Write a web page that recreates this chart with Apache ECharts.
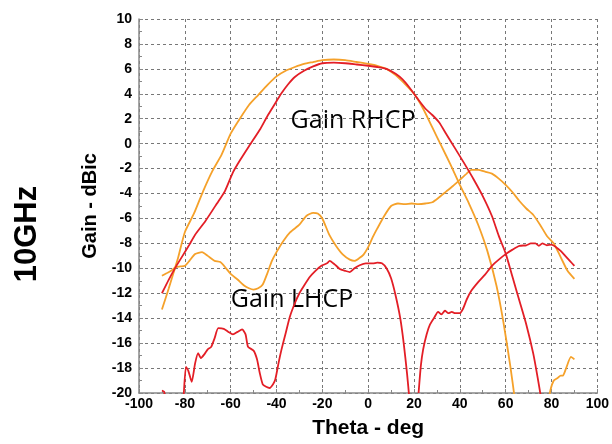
<!DOCTYPE html>
<html lang="en">
<head>
    <meta charset="UTF-8">
    <title>Gain 10GHz</title>
    <script src="https://cdn.jsdelivr.net/npm/echarts@6/dist/echarts.min.js"></script>
    <style>
        html, body {
            width: 100%;
            height: 100%;
            margin: 0;
            padding: 0;
            background-color: #fff;
            overflow: hidden;
        }
        #chart {
            width: 612px;
            height: 444px;
        }
    </style>
</head>
<body>
<div id="chart"></div>
<script>
    // Axis ranges
    var thetaMin = -100, thetaMax = 100, thetaStep = 20;
    var gainMin = -20, gainMax = 10, gainStep = 2;

    // Gain RHCP, orange trace (theta, gain); dips below -20 between ~64 and ~79
    var rhcpOrange = [
        [-90, -13.3], [-87, -11.6], [-85, -10.4], [-83, -9.2], [-80, -7.1], [-76, -5.6],
        [-72, -3.8], [-68, -2.2], [-64, -0.9], [-60, 0.8], [-56, 2.0], [-52, 3.1],
        [-48, 3.9], [-44, 4.7], [-40, 5.4], [-36, 5.85], [-32, 6.15], [-28, 6.4],
        [-24, 6.55], [-20, 6.7], [-15, 6.75], [-10, 6.7], [-5, 6.55], [0, 6.4],
        [4, 6.25], [8, 6.0], [12, 5.5], [16, 4.8], [20, 4.0], [24, 2.8], [28, 1.3],
        [32, -0.2], [36, -1.7], [40, -3.3], [44, -4.8], [48, -6.5], [52, -8.6],
        [56, -11.4], [59, -14.3], [62, -17.8], [64, -20.5], [65, -22], [70, null],
        [78.5, -21], [79.5, -19.8], [81, -19.0], [82.7, -18.8], [84, -18.6], [85, -18.6],
        [86.4, -18.0], [88.5, -17.1], [90, -17.3]
    ];

    // Gain RHCP, red trace
    var rhcpRed = [
        [-90, -12.0], [-87, -10.9], [-84, -9.9], [-81, -9.0], [-78, -8.1], [-75.5, -7.3],
        [-71, -6.2], [-66, -4.8], [-62.5, -3.8], [-59, -2.3], [-56, -1.35], [-52, -0.2],
        [-47, 1.2], [-44, 2.2], [-41, 3.1], [-38, 4.0], [-35, 4.75], [-32, 5.35],
        [-28, 5.85], [-24, 6.2], [-20, 6.45], [-15, 6.5], [-10, 6.45], [-5, 6.35],
        [0, 6.25], [4, 6.15], [8, 6.0], [12, 5.6], [15, 5.15], [18, 4.5], [22, 3.5],
        [25, 2.8], [28, 2.3], [31, 1.7], [34, 0.8], [38, -0.4], [42, -1.6], [46, -2.85],
        [50, -4.2], [54, -5.8], [57, -7.4], [60, -8.8], [63, -10.7], [66, -12.6],
        [69, -14.5], [72, -16.8], [74, -18.8], [75.5, -20.5], [77, -23]
    ];

    // Gain LHCP, orange trace
    var lhcpOrange = [
        [-90, -10.6], [-88, -10.4], [-86, -10.2], [-84, -9.9], [-82, -9.85], [-80, -9.8],
        [-78, -9.4], [-75.5, -8.85], [-72.5, -8.7], [-70, -9.0], [-67, -9.4], [-64.5, -9.5],
        [-62, -10.0], [-60, -10.45], [-57, -10.9], [-54, -11.4], [-52, -11.6], [-50, -11.7],
        [-48, -11.6], [-46, -11.3], [-44, -10.4], [-42, -9.4], [-40, -8.7], [-37, -7.8],
        [-34, -7.1], [-30, -6.5], [-27, -5.8], [-24, -5.55], [-22, -5.6], [-20, -6.0],
        [-17, -7.3], [-14, -8.2], [-11, -8.9], [-8, -9.3], [-6, -9.4], [-4, -9.2],
        [-2, -8.9], [0, -8.3], [2, -7.5], [4, -6.8], [7, -5.8], [10, -5.0], [13, -4.8],
        [16, -4.85], [19, -4.8], [22, -4.85], [25, -4.8], [28, -4.7], [31, -4.3],
        [34, -3.85], [37, -3.4], [40, -2.9], [43, -2.4], [45, -2.1], [48, -2.1],
        [51, -2.25], [54, -2.4], [57, -2.8], [60, -3.3], [63, -3.9], [66, -4.6],
        [69, -5.2], [72, -5.7], [75, -6.5], [78, -7.4], [81, -8.0], [84, -9.1],
        [87, -10.2], [90, -10.85]
    ];

    // Gain LHCP, red trace (two nulls dip below -20)
    var lhcpRed = [
        [-90, -19.8], [-89, -19.9], [-88.5, -21], [-85, null],
        [-81, -22], [-80.5, -20.2], [-79.5, -17.9], [-78.5, -18.2], [-77, -19.1],
        [-75.5, -17.6], [-74.2, -16.8], [-73, -17.2], [-71.5, -16.9], [-70, -16.5],
        [-68.5, -16.3], [-67, -15.6], [-65.4, -14.8], [-63, -14.85], [-61, -15.1],
        [-59, -15.3], [-57, -15.1], [-55, -14.9], [-53.5, -15.3], [-52.4, -16.3],
        [-50, -16.6], [-48.5, -17.3], [-47.3, -18.4], [-46, -19.3], [-44.5, -19.5],
        [-43, -19.6], [-41.5, -19.3], [-40.5, -18.9], [-39, -17.5], [-37.8, -16.5],
        [-36, -15.2], [-34.2, -13.9], [-32, -12.8], [-30, -12.0], [-28, -11.4],
        [-25.5, -10.7], [-23, -10.2], [-20.4, -9.8], [-18, -9.6], [-16.8, -9.4],
        [-14.5, -9.7], [-12.4, -10.05], [-10, -10.2], [-8, -10.3], [-6, -10.0],
        [-3.7, -9.75], [-1, -9.6], [2, -9.6], [4, -9.55], [6, -9.6], [8, -10.0],
        [10, -10.8], [12, -12.2], [14, -14.0], [15.5, -16.0], [17, -18.5], [18, -20.5],
        [20, null], [22, -20.0], [23, -17.8], [24, -16.5], [25.5, -15.3], [27, -14.5],
        [29, -13.9], [30.5, -13.5], [32, -13.7], [33.5, -13.4], [35, -13.6], [36.5, -13.5],
        [38, -13.6], [40, -13.6], [41.5, -13.2], [43, -12.5], [45, -11.8], [48, -11.1],
        [51, -10.5], [54, -9.8], [57, -9.3], [60, -8.86], [63, -8.5], [66, -8.2],
        [69, -8.15], [71, -8.0], [73, -8.0], [74.5, -8.2], [76, -8.0], [78, -8.15],
        [80, -8.1], [82, -8.3], [84, -8.6], [86, -9.0], [88, -9.4], [90, -9.8]
    ];

    var orange = '#F5A12A';
    var red = '#E31E26';

    var chart = echarts.init(document.getElementById('chart'));

    function lineSeries(name, data, color) {
        return {
            name: name,
            type: 'line',
            data: data,
            showSymbol: false,
            smooth: 0.2,
            clip: true,
            lineStyle: { color: color, width: 1.8 },
            itemStyle: { color: color }
        };
    }

    var axisLabelStyle = {
        color: '#000',
        fontFamily: 'Liberation Sans, Arial, sans-serif',
        fontWeight: 'bold',
        fontSize: 14
    };
    var splitStyle = { show: true, lineStyle: { color: '#777', type: [3, 3], width: 1 } };

    chart.setOption({
        animation: false,
        backgroundColor: '#fff',
        grid: { left: 139, right: 14, top: 19, bottom: 47 },
        xAxis: {
            type: 'value',
            min: thetaMin,
            max: thetaMax,
            interval: thetaStep,
            name: 'Theta - deg',
            nameLocation: 'middle',
            nameGap: 25,
            nameTextStyle: {
                color: '#000', fontFamily: 'Liberation Sans, Arial, sans-serif',
                fontWeight: 'bold', fontSize: 21
            },
            axisLine: { onZero: false, lineStyle: { color: '#888', width: 1.5 } },
            axisTick: { show: true, inside: true, length: 4, lineStyle: { color: '#888' } },
            minorTick: { show: true, splitNumber: 2, length: 3, lineStyle: { color: '#888' } },
            axisLabel: Object.assign({ margin: 4 }, axisLabelStyle),
            splitLine: splitStyle
        },
        yAxis: {
            type: 'value',
            min: gainMin,
            max: gainMax,
            interval: gainStep,
            name: 'Gain - dBic',
            nameLocation: 'middle',
            nameGap: 29,
            nameTextStyle: {
                color: '#000', fontFamily: 'Liberation Sans, Arial, sans-serif',
                fontWeight: 'bold', fontSize: 20
            },
            axisLine: { show: true, onZero: false, lineStyle: { color: '#888', width: 1.5 } },
            axisTick: { show: true, inside: true, length: 4, lineStyle: { color: '#888' } },
            minorTick: { show: true, splitNumber: 2, length: 3, lineStyle: { color: '#888' } },
            axisLabel: Object.assign({ margin: 7 }, axisLabelStyle),
            splitLine: splitStyle
        },
        graphic: [
            {
                type: 'text',
                x: 27, y: 234,
                rotation: Math.PI / 2,
                style: {
                    text: '10GHz',
                    fill: '#000',
                    font: 'bold 31px "Liberation Sans", Arial, sans-serif',
                    textAlign: 'center',
                    textVerticalAlign: 'middle'
                }
            },
            {
                type: 'text',
                x: 353, y: 121,
                style: {
                    text: 'Gain RHCP',
                    fill: '#000',
                    font: '25px "Open Sans", sans-serif',
                    textAlign: 'center',
                    textVerticalAlign: 'middle'
                }
            },
            {
                type: 'text',
                x: 292, y: 300,
                style: {
                    text: 'Gain LHCP',
                    fill: '#000',
                    font: '25px "Open Sans", sans-serif',
                    textAlign: 'center',
                    textVerticalAlign: 'middle'
                }
            }
        ],
        series: [
            lineSeries('RHCP orange', rhcpOrange, orange),
            lineSeries('LHCP orange', lhcpOrange, orange),
            lineSeries('LHCP red', lhcpRed, red),
            lineSeries('RHCP red', rhcpRed, red)
        ]
    });
</script>
</body>
</html>
